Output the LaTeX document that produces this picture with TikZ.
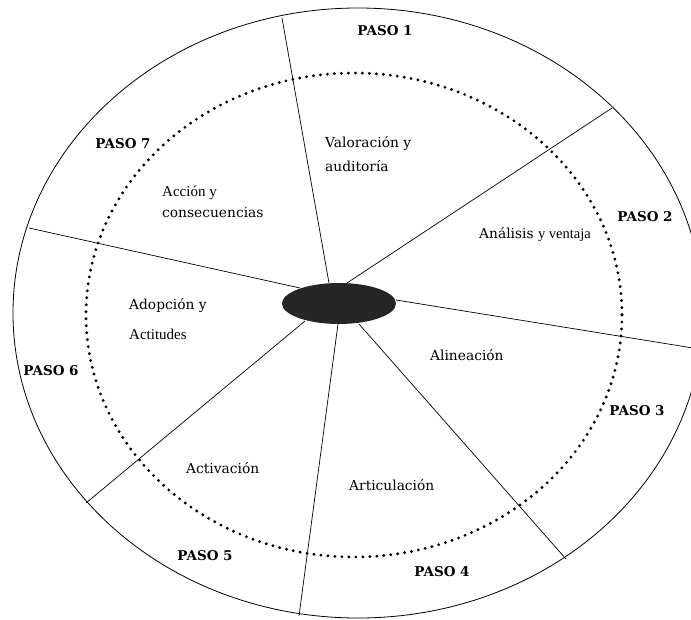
\documentclass[tikz,border=0pt]{standalone}
\usepackage{fontspec}
\setmainfont{DejaVu Serif}
\newfontfamily\tms{Liberation Serif}
\usetikzlibrary{shapes.geometric}
\tikzset{
 rim/.style={line width=0.8pt},
 spoke/.style={line width=0.7pt},
 dotring/.style={line width=3.2pt, line cap=round, dash pattern=on 0pt off 7pt},
 paso/.style={font=\bfseries\fontsize{13.5}{15}\selectfont, inner sep=0pt},
 lbl/.style={font=\fontsize{13.8}{16}\selectfont, inner sep=0pt, anchor=west},
 sml/.style={font=\tms\fontsize{15}{17}\selectfont, inner sep=0pt, anchor=west},
}
\begin{document}
\begin{tikzpicture}[x=1pt,y=-1pt]
\useasboundingbox (0,0) rectangle (691,619);
\clip (0,0) rectangle (691,619);
% rings
\draw[rim] (358,313) ellipse [x radius=345, y radius=305];
\draw[dotring] (354,315) ellipse [x radius=268, y radius=242];
% spoke ends
\coordinate (i1) at (329,283); \coordinate (o1) at (282,18);
\coordinate (i2) at (347,283); \coordinate (o2) at (612,108);
\coordinate (i3) at (396,300); \coordinate (o3) at (693,348);
\coordinate (i4) at (359,324); \coordinate (o4) at (566,559);
\coordinate (i5) at (338,324); \coordinate (o5) at (299,616);
\coordinate (i6) at (305,321); \coordinate (o6) at (86,503);
\coordinate (i7) at (300,288); \coordinate (o7) at (29,228);
\foreach \k in {1,...,7} \draw[spoke] (i\k) -- (o\k);
\node[ellipse, fill=black!85, minimum width=114pt, minimum height=41pt, inner sep=0pt] (hub) at (339,303.5) {};
% step labels
\node[paso] (p1) at (385,31) {PASO 1};
\node[paso] (p2) at (645,217) {PASO 2};
\node[paso] (p3) at (637,411) {PASO 3};
\node[paso] (p4) at (442,572) {PASO 4};
\node[paso] (p5) at (205,556) {PASO 5};
\node[paso] (p6) at (51,371) {PASO 6};
\node[paso] (p7) at (123,144) {PASO 7};
% sector texts
\node[lbl] (t1a) at (325,144) {Valoración y};
\node[lbl] (t1b) at (325,166) {auditoría};
\node[lbl] (t2) at (479,235) {Análisis {\tms\fontsize{14.5}{16}\selectfont y ventaja}};
\node[lbl] (t3) at (430,355) {Alineación};
\node[lbl] (t4) at (349,485) {Articulación};
\node[lbl] (t5) at (186,468) {Activación};
\node[lbl] (t6a) at (129,306) {Adopción y};
\node[sml] (t6b) at (129,334) {Actitudes};
\node[sml] (t7a) at (162,193) {Acción y};
\node[lbl] (t7b) at (162,213) {consecuencias};
\end{tikzpicture}
\end{document}
